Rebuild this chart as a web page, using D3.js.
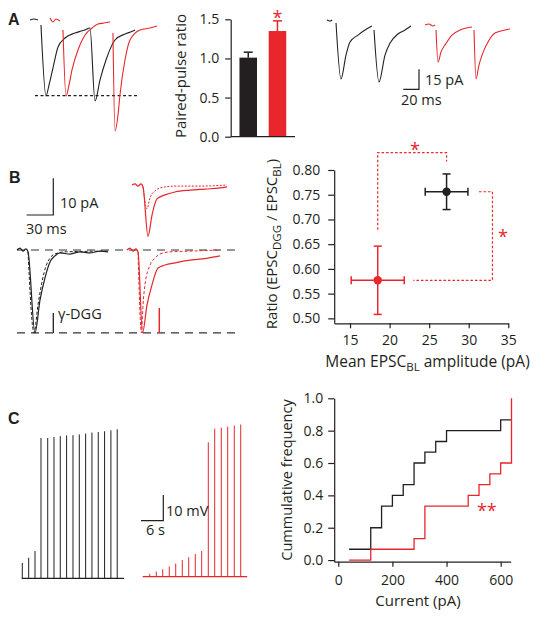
<!DOCTYPE html>
<html><head><meta charset="utf-8">
<script src="https://cdn.jsdelivr.net/npm/d3@7"></script>
<style>body{margin:0;background:#fff}</style>
</head><body><svg id="fig" width="541" height="618"></svg>
<script>
// ================= DATA =================
// Panel A – paired-pulse ratio bars
const ppCategories = ["control", "treated"];
const ppValues = [1.01, 1.35];
const ppErrors = [0.07, 0.13];
const ppTicks = [0, 0.5, 1.0, 1.5];

// Panel A – example EPSC traces [time ms, current pA], null = blanked artifact
const aLeftBlack = [[0,0],[5.1,0.8],[10.2,0],null,[14,-3.8],[20.4,-57],[24.2,-48.8],[29.3,-36],[35.7,-20.3],[44.6,-13.5],[57.3,-9.8],[64,-8.5],[70.1,-7.5],[76.4,-6],[82.8,-60.8],[89.2,-45],[96.8,-30],[108.3,-15],[121,-10.5],[128,-9],[133.8,-7.5]];
const aLeftRed = [[25.5,1.5],[29.3,-1.5],[33.1,0.8],[38.2,-0.8],null,[42,-7.5],[45.9,-57],[49.7,-48.8],[53.5,-37.5],[61.1,-22.5],[70.1,-11.3],[79,-6],[86.6,-3],[94.3,-2.3],[101.9,-1.5],null,[105.7,-9.8],[108.3,-83.3],[112.1,-71.3],[114.6,-56.3],[121,-30],[127.4,-15],[140.1,-7.5],[152.9,-6],[161.8,-4.5]];
const aLeftPeakLine = [[6.4,-56.8],[136.3,-56.8]];
const aRightBlack = [[0,0],[3.8,-0.8],[6.4,0],null,[11.5,-2.3],[17.8,-44.3],[24.2,-26.3],[29.3,-16.5],[39.5,-11.3],[48.4,-7.5],[57.3,-4.5],null,[59.9,-7.5],[66.2,-46.5],[73.9,-26.3],[80.3,-17.3],[90.4,-10.5],[99.4,-7.5],[107,-4.5]];
const aRightRed = [[124.8,-3.8],[129.9,-3],[135,-4.5],[137.6,-3.8],null,[138.9,-7.5],[141.4,-31.5],[145.2,-24],[150.3,-18.8],[159.2,-11.3],[169.4,-7.5],[177.1,-6],[184.7,-5.3],null,[187.3,-7.5],[189.8,-44.3],[193.6,-33.8],[197.5,-26.3],[205.1,-16.5],[214,-9.8],[226.8,-7.5],[233.1,-6.8]];
const aScaleMs = 20, aScalePA = 15;

// Panel B – traces [ms, pA]
const bTopRedSolid = [[0,0],[3.4,0.3],[6.7,-0.3],[10.1,0.3],[12.4,-0.5],[18,-14],[22.5,-8.2],[28.1,-3.8],[37.1,-2.7],[48.4,-1.9],[65.2,-1.4],[82.1,-1.1],[99,-0.8],[106.9,-0.5]];
const bTopRedDashed = [[12.4,-0.5],[16.9,-6.5],[20.2,-3.5],[25.9,-1.6],[31.5,-0.8],[48.4,-0.3],[76.5,-0.3],[106.9,0]];
const bBlackSolid = [[0,0],[3.4,0.5],[6.7,-0.3],[10.1,0.3],[12.4,-0.5],[20.2,-22.6],[25.9,-13.6],[31.5,-7.6],[37.1,-3.3],[42.7,-1.6],[48.4,-0.8],[59.6,-1.1],[70.9,-0.5],[82.1,-0.8],[93.4,-0.3],[102.4,-0.5]];
const bBlackDashed = [[12.4,-0.5],[19.1,-22.6],[23.6,-15],[28.1,-8.7],[32.6,-4.4],[37.1,-2.2],[42.7,-1.1],[54,-0.5],[102.4,-0.3]];
const bRedSolid = [[0,0],[3.4,0.5],[6.7,-0.3],[10.1,0.3],[12.4,-0.5],[17.4,-22.6],[22.5,-15],[28.1,-9.5],[34.9,-4.9],[42.7,-4.1],[54,-3.5],[73.1,-2.7],[91.1,-2.2],[104.6,-1.6]];
const bRedDashed = [[12.4,-0.5],[16.3,-22.6],[18,-15],[20.2,-9.5],[25.9,-4.1],[31.5,-2.2],[37.1,-1.1],[48.4,-0.5],[70.9,-0.3],[104.6,0]];
const bRefLevels = [0, -22.6];
const bScaleMs = 30, bScalePA = 10;

// Panel B – scatter
const ampMean = [27.2, 18.5];
const ampErr = [2.7, 3.35];
const ratioMean = [0.756, 0.577];
const ratioErr = [0.036, 0.069];
const bXTicks = [15, 20, 25, 30, 35];
const bYTicks = [0.50, 0.55, 0.60, 0.65, 0.70, 0.75, 0.80];
const bracket1 = [[18.5,0.679],[18.5,0.835],[27.2,0.835],[27.2,0.817]];
const bracket2 = [[31.3,0.756],[33.0,0.756],[33.0,0.577],[23.0,0.577]];

// Panel C – spike trains (time s, peak mV)
const cBlackTimes = [0.16,1.88,3.58,5.19,7.0,8.69,10.38,12.08,13.8,15.5,17.2,18.9,20.6,22.3,24.0,25.7];
const cBlackPeaks = [6,8,10.6,54.6,54.6,55.0,55.3,55.6,55.7,56.0,56.3,56.7,56.9,57.2,57.6,58.0];
const cBlackEnd = 27.5;
const cRedTimes = [1.88,3.66,5.38,7.16,8.88,10.65,12.38,14.15,15.87,17.65,19.37,21.15,22.87,24.64,26.37];
const cRedPeaks = [1.1,2,2.9,4,5.1,6.5,7.6,8.8,10,52.3,57.6,58,58.4,58.8,59.2];
const cRedEnd = 28.1;
const cScaleS = 6, cScaleMV = 10;

// Panel C – cumulative frequency
const cumBlackX = [40,120,160,200,240,280,320,360,400,600,640];
const cumBlackY = [0.067,0.2,0.333,0.4,0.467,0.6,0.667,0.733,0.8,0.867,0.867];
const cumRedX = [40,120,280,320,480,520,560,600,640];
const cumRedY = [0,0.067,0.133,0.333,0.4,0.467,0.533,0.6,1.0];
const cXTicks = [0,200,400,600];
const cYTicks = [0,0.2,0.4,0.6,0.8,1.0];

// ================= DRAWING =================
const RED = "#e8262b", BLK = "#231f20";
const FONT = "'Open Sans', 'Noto Sans', sans-serif";
const TICK = 14, TITLE = 15;
const svg = d3.select("#fig");
svg.append("rect").attr("width",541).attr("height",618).attr("fill","#fff");

function drawTrace(data, xS, yS, color, dash, w) {
  const line = d3.line().defined(d => d !== null).x(d => xS(d[0])).y(d => yS(d[1])).curve(d3.curveMonotoneX);
  svg.append("path").datum(data).attr("d", line).attr("fill","none")
    .attr("stroke", color).attr("stroke-width", w || 1.1)
    .attr("stroke-dasharray", dash || null).attr("stroke-linejoin","round");
}
function txt(x, y, s, opt) {
  opt = opt || {};
  return svg.append("text").attr("x",x).attr("y",y).text(s)
    .attr("font-family", opt.family || FONT).attr("font-size", opt.size || TITLE)
    .attr("font-weight", opt.weight || null).attr("fill", opt.fill || BLK)
    .attr("text-anchor", opt.anchor || "start");
}
function styleAxis(g) {
  g.selectAll("path,line").attr("stroke", BLK).attr("stroke-width", 1.2);
  g.selectAll("text").attr("font-family", FONT).attr("font-size", TICK).attr("fill", BLK);
}
function star(x, y, s) {
  txt(x, y, s || "*", {fill: RED, size: 18, anchor: "middle"});
}

// panel letters
const LF = "'Liberation Sans', Arial, sans-serif";
txt(8, 25, "A", {family: LF, size: 16, weight: "bold"});
txt(9, 183, "B", {family: LF, size: 16, weight: "bold"});
txt(8, 424, "C", {family: LF, size: 16, weight: "bold"});

// ---- Panel A traces ----
const aPxMs = 0.785, aPxPA = 1.333;
const aLX = d3.scaleLinear().domain([0,100]).range([30, 30 + 100*aPxMs]);
const aRX = d3.scaleLinear().domain([0,100]).range([327, 327 + 100*aPxMs]);
const aY = d3.scaleLinear().domain([0,-100]).range([20, 20 + 100*aPxPA]);
drawTrace(aLeftPeakLine, aLX, aY, BLK, "3,2.5", 1.3);
drawTrace(aLeftBlack, aLX, aY, BLK);
drawTrace(aLeftRed, aLX, aY, RED);
drawTrace(aRightBlack, aRX, aY, BLK);
drawTrace(aRightRed, aRX, aY, RED);
{
  const x1 = 419, y1 = 89.3;
  const w = aRX(aScaleMs) - aRX(0), h = aY(-aScalePA) - aY(0);
  svg.append("path").attr("d", `M${x1-w},${y1}H${x1}V${y1-h}`).attr("fill","none").attr("stroke",BLK).attr("stroke-width",1.2);
  txt(425, 85, aScalePA + " pA", {size: 14.5});
  txt(401, 105, aScaleMs + " ms", {size: 14.5});
}

// ---- Panel A bars ----
{
  const y = d3.scaleLinear().domain([0,1.5]).range([136.7, 19.3]);
  const x = d3.scaleBand().domain(ppCategories).range([230.7, 295]).paddingInner(0.4).paddingOuter(0.3);
  const cols = [BLK, RED];
  ppCategories.forEach((c,i) => {
    const cx = x(c) + x.bandwidth()/2;
    svg.append("line").attr("x1",cx).attr("x2",cx).attr("y1",y(ppValues[i])).attr("y2",y(ppValues[i]+ppErrors[i])).attr("stroke",cols[i]).attr("stroke-width",1.5);
    svg.append("line").attr("x1",cx-4.5).attr("x2",cx+4.5).attr("y1",y(ppValues[i]+ppErrors[i])).attr("y2",y(ppValues[i]+ppErrors[i])).attr("stroke",cols[i]).attr("stroke-width",1.5);
    svg.append("rect").attr("x",x(c)).attr("width",x.bandwidth()).attr("y",y(ppValues[i])).attr("height",y(0)-y(ppValues[i])).attr("fill",cols[i]);
  });
  const ga = svg.append("g").attr("transform","translate(230.7,0)")
    .call(d3.axisLeft(y).tickValues(ppTicks).tickFormat(d3.format(".1f")).tickSize(5.5).tickSizeOuter(0).tickPadding(6));
  styleAxis(ga);
  svg.append("line").attr("x1",230.7).attr("x2",295).attr("y1",136.7).attr("y2",136.7).attr("stroke",BLK).attr("stroke-width",1.2);
  txt(0,0,"Paired-pulse ratio").attr("transform","translate(186,76) rotate(-90)").attr("text-anchor","middle");
  star(x(ppCategories[1]) + x.bandwidth()/2, 24);
}

// ---- Panel B traces ----
const bPxMs = 0.889, bPxPA = 3.67;
const bY = d3.scaleLinear().domain([0,-10]).range([250, 250 + 10*bPxPA]);
const bYTop = d3.scaleLinear().domain([0,-10]).range([185, 185 + 10*bPxPA]);
const bXBlack = d3.scaleLinear().domain([0,100]).range([17, 17 + 100*bPxMs]);
const bXRed = d3.scaleLinear().domain([0,100]).range([127, 127 + 100*bPxMs]);
const bXTop = d3.scaleLinear().domain([0,100]).range([132, 132 + 100*bPxMs]);
bRefLevels.forEach(v => {
  svg.append("line").attr("x1",17).attr("x2",236).attr("y1",bY(v)).attr("y2",bY(v))
    .attr("stroke","#333").attr("stroke-width",1.2).attr("stroke-dasharray","8,6");
});
drawTrace(bTopRedDashed, bXTop, bYTop, RED, "2,1.5", 1);
drawTrace(bTopRedSolid, bXTop, bYTop, RED, null, 1.2);
drawTrace(bBlackDashed, bXBlack, bY, BLK, "3,2", 1);
drawTrace(bBlackSolid, bXBlack, bY, BLK, null, 1.2);
drawTrace(bRedDashed, bXRed, bY, RED, "3,2", 1);
drawTrace(bRedSolid, bXRed, bY, RED, null, 1.2);
{
  const x1 = 53.3, y1 = 215;
  const w = bXBlack(bScaleMs) - bXBlack(0), h = bY(-bScalePA) - bY(0);
  svg.append("path").attr("d", `M${x1-w},${y1}H${x1}V${y1-h}`).attr("fill","none").attr("stroke",BLK).attr("stroke-width",1.2);
  txt(60, 208, bScalePA + " pA", {size: 14.5});
  txt(26, 234, bScaleMs + " ms", {size: 14.5});
  svg.append("line").attr("x1",53.3).attr("x2",53.3).attr("y1",bY(-22.6*0.76)).attr("y2",bY(-22.6*0.76) + 20).attr("stroke",BLK).attr("stroke-width",1.3);
  svg.append("line").attr("x1",159.3).attr("x2",159.3).attr("y1",bY(-22.6)).attr("y2",bY(-22.6) - 25).attr("stroke",RED).attr("stroke-width",1.5);
  txt(58, 319, "γ-DGG", {size: 14.5});
}

// ---- Panel B scatter ----
{
  const x = d3.scaleLinear().domain([13,35]).range([334.2, 508.3]);
  const y = d3.scaleLinear().domain([0.49,0.80]).range([323.3, 170]);
  const gx = svg.append("g").attr("transform","translate(0,323.3)")
    .call(d3.axisBottom(x).tickValues(bXTicks).tickSize(5).tickSizeOuter(0).tickPadding(7));
  styleAxis(gx);
  const gy = svg.append("g").attr("transform","translate(334.2,0)")
    .call(d3.axisLeft(y).tickValues(bYTicks).tickFormat(d3.format(".2f")).tickSize(6).tickSizeOuter(0).tickPadding(8));
  styleAxis(gy);
  const lineB = d3.line().x(d => x(d[0])).y(d => y(d[1]));
  [bracket1, bracket2].forEach(b => svg.append("path").attr("d", lineB(b)).attr("fill","none").attr("stroke",RED).attr("stroke-width",1.2).attr("stroke-dasharray","2.5,2"));
  const cols = [BLK, RED];
  ampMean.forEach((m,i) => {
    const cx = x(m), cy = y(ratioMean[i]);
    const g = svg.append("g").attr("stroke", cols[i]).attr("stroke-width", 1.5);
    g.append("line").attr("x1",x(m-ampErr[i])).attr("x2",x(m+ampErr[i])).attr("y1",cy).attr("y2",cy);
    g.append("line").attr("x1",x(m-ampErr[i])).attr("x2",x(m-ampErr[i])).attr("y1",cy-4).attr("y2",cy+4);
    g.append("line").attr("x1",x(m+ampErr[i])).attr("x2",x(m+ampErr[i])).attr("y1",cy-4).attr("y2",cy+4);
    g.append("line").attr("x1",cx).attr("x2",cx).attr("y1",y(ratioMean[i]-ratioErr[i])).attr("y2",y(ratioMean[i]+ratioErr[i]));
    g.append("line").attr("x1",cx-4).attr("x2",cx+4).attr("y1",y(ratioMean[i]-ratioErr[i])).attr("y2",y(ratioMean[i]-ratioErr[i]));
    g.append("line").attr("x1",cx-4).attr("x2",cx+4).attr("y1",y(ratioMean[i]+ratioErr[i])).attr("y2",y(ratioMean[i]+ratioErr[i]));
    svg.append("circle").attr("cx",cx).attr("cy",cy).attr("r",4.2).attr("fill",cols[i]);
  });
  star(x(23.2), 156);
  star(503, 243);
  const tl = txt(0,0,"").attr("transform","translate(277,244) rotate(-90)").attr("text-anchor","middle");
  tl.append("tspan").text("Ratio (EPSC");
  tl.append("tspan").text("DGG").attr("font-size",11.5).attr("dy",4);
  tl.append("tspan").text(" / EPSC").attr("dy",-4);
  tl.append("tspan").text("BL").attr("font-size",11.5).attr("dy",4);
  tl.append("tspan").text(")").attr("dy",-4);
  const xl = txt(427.5, 367, "", {size: 15.5}).attr("text-anchor","middle");
  xl.append("tspan").text("Mean EPSC");
  xl.append("tspan").text("BL").attr("font-size",11.5).attr("dy",4);
  xl.append("tspan").text(" amplitude (pA)").attr("dy",-4);
}

// ---- Panel C spike trains ----
{
  const pxS = 22.3/6, pxMV = 25.7/10;
  const xB = d3.scaleLinear().domain([0,6]).range([21.7, 21.7 + 6*pxS]);
  const yB = d3.scaleLinear().domain([0,10]).range([578.3, 578.3 - 10*pxMV]);
  const xR = d3.scaleLinear().domain([0,6]).range([142.7, 142.7 + 6*pxS]);
  const yR = d3.scaleLinear().domain([0,10]).range([576.7, 576.7 - 10*pxMV]);
  function train(times, peaks, end, xS, yS, col) {
    svg.append("line").attr("x1",xS(0)).attr("x2",xS(end)).attr("y1",yS(0)).attr("y2",yS(0)).attr("stroke",col).attr("stroke-width",1.3);
    times.forEach((t,i) => {
      svg.append("line").attr("x1",xS(t)).attr("x2",xS(t)).attr("y1",yS(0)).attr("y2",yS(peaks[i])).attr("stroke",col).attr("stroke-width",1);
    });
  }
  train(cBlackTimes, cBlackPeaks, cBlackEnd, xB, yB, BLK);
  train(cRedTimes, cRedPeaks, cRedEnd, xR, yR, RED);
  const x1 = 163.3, y1 = 520.7;
  const w = xR(cScaleS) - xR(0), h = yR(0) - yR(cScaleMV);
  svg.append("path").attr("d", `M${x1-w},${y1}H${x1}V${y1-h}`).attr("fill","none").attr("stroke",BLK).attr("stroke-width",1.2);
  txt(166, 516, cScaleMV + " mV", {size: 14.5});
  txt(146, 535, cScaleS + " s", {size: 14.5});
}

// ---- Panel C cumulative ----
{
  const x = d3.scaleLinear().domain([-15,637]).range([334.2, 510.7]);
  const y = d3.scaleLinear().domain([-0.01,1.0]).range([561.7, 398.3]);
  const gx = svg.append("g").attr("transform","translate(0,561.7)")
    .call(d3.axisBottom(x).tickValues(cXTicks).tickSize(5).tickSizeOuter(0).tickPadding(8));
  styleAxis(gx);
  const gy = svg.append("g").attr("transform","translate(334.2,0)")
    .call(d3.axisLeft(y).tickValues(cYTicks).tickFormat(d3.format(".1f")).tickSize(6).tickSizeOuter(0).tickPadding(5));
  styleAxis(gy);
  const step = d3.line().x(d => x(d[0])).y(d => y(d[1])).curve(d3.curveStepAfter);
  svg.append("path").attr("d", step(cumBlackX.map((v,i) => [v, cumBlackY[i]]))).attr("fill","none").attr("stroke",BLK).attr("stroke-width",1.3);
  svg.append("path").attr("d", step(cumRedX.map((v,i) => [v, cumRedY[i]]))).attr("fill","none").attr("stroke",RED).attr("stroke-width",1.3);
  star(x(549), 517, "**");
  txt(0,0,"Cummulative frequency", {size: 14.5}).attr("transform","translate(292,480) rotate(-90)").attr("text-anchor","middle");
  txt(418, 606, "Current (pA)", {anchor: "middle"});
}
</script></body></html>
